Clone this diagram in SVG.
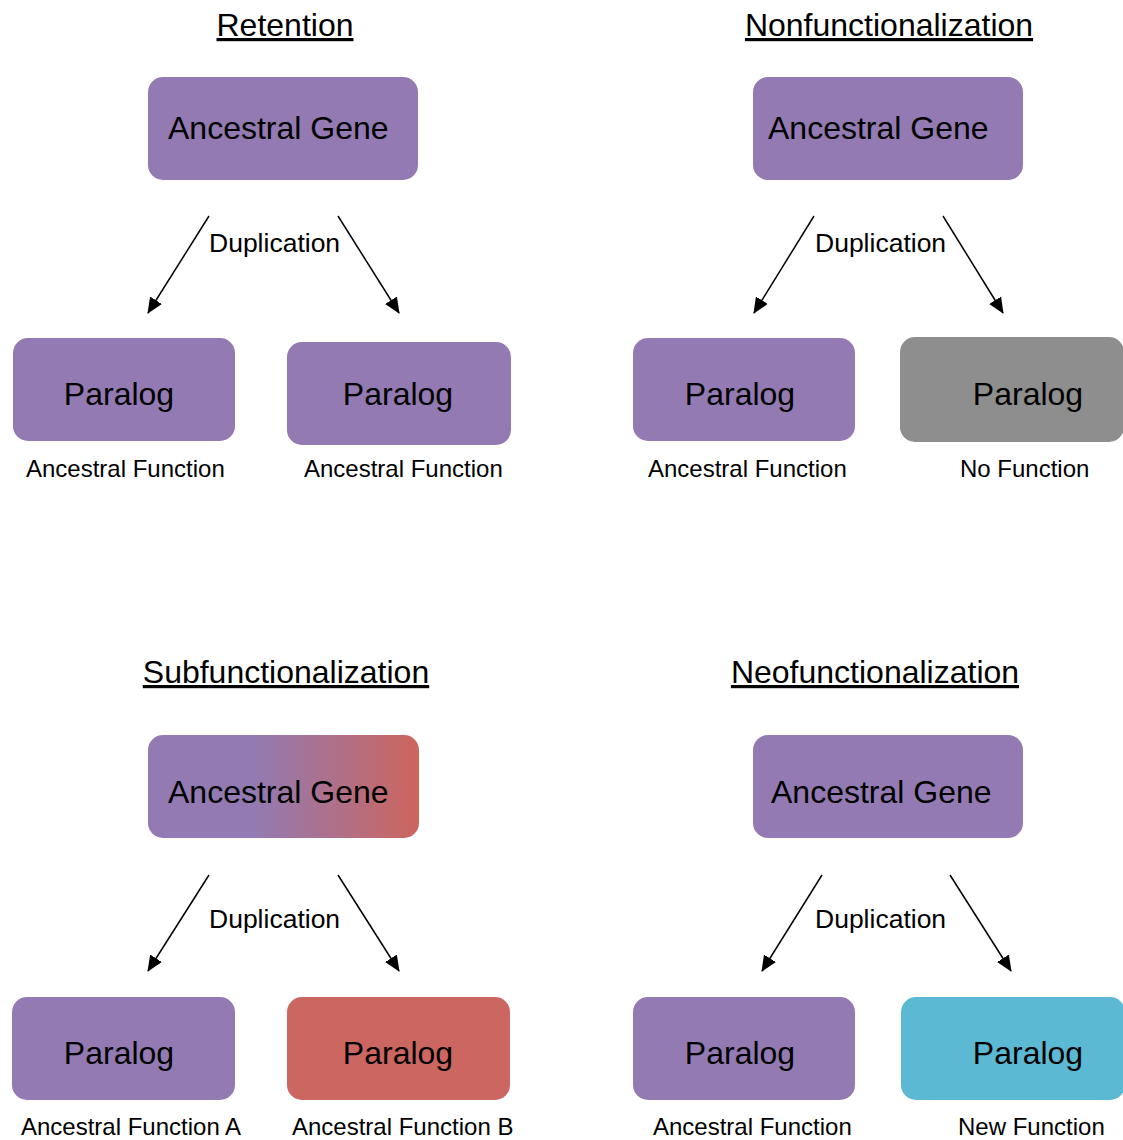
<svg xmlns="http://www.w3.org/2000/svg" width="1123" height="1140" viewBox="0 0 1123 1140">
<defs>
<marker id="ah" markerWidth="16" markerHeight="14" refX="15" refY="7" orient="auto" markerUnits="userSpaceOnUse" viewBox="0 0 16 14">
<path d="M0,0 L16,7 L0,14 z" fill="#000"/>
</marker>
<linearGradient id="grad" x1="0" y1="0" x2="1" y2="0">
<stop offset="0.4" stop-color="#937AB2"/>
<stop offset="1" stop-color="#CD655D"/>
</linearGradient>
<style>
text{font-family:"Liberation Sans",Arial,sans-serif;fill:#000}
.title{font-size:32px;text-decoration:underline;text-anchor:middle}
.big{font-size:32px}
.mid{font-size:26.5px}
.lbl{font-size:24px}
.purple{fill:#937AB2}
.gray{fill:#8E8E8E}
.red{fill:#CC6660}
.cyan{fill:#5CB9D3}
.conn line{stroke:#000;stroke-width:1.5;marker-end:url(#ah)}
</style>
</defs>
<rect width="1123" height="1140" fill="#fff"/>

<g id="titles">
<text class="title" x="285" y="36">Retention</text>
<text class="title" x="889" y="36">Nonfunctionalization</text>
<text class="title" x="286" y="683">Subfunctionalization</text>
<text class="title" x="875" y="683">Neofunctionalization</text>
</g>

<g id="connectors" class="conn">
<line x1="209" y1="216" x2="148" y2="313"/>
<line x1="338" y1="216" x2="399" y2="313"/>
<line x1="814" y1="216" x2="754" y2="313"/>
<line x1="943" y1="216" x2="1003" y2="313"/>
<line x1="209" y1="875" x2="148" y2="971"/>
<line x1="338" y1="875" x2="399" y2="971"/>
<line x1="822" y1="875" x2="762" y2="971"/>
<line x1="950" y1="875" x2="1011" y2="971"/>
</g>

<g id="dup-labels">
<text class="mid" x="209" y="252">Duplication</text>
<text class="mid" x="815" y="252">Duplication</text>
<text class="mid" x="209" y="928">Duplication</text>
<text class="mid" x="815" y="928">Duplication</text>
</g>

<g id="ret-ancestral">
<rect class="purple" x="148" y="77" width="270" height="103" rx="15"/>
<text class="big" x="168" y="139">Ancestral Gene</text>
</g>
<g id="ret-paralog1">
<rect class="purple" x="13" y="338" width="222" height="103" rx="15"/>
<text class="big" x="119" y="405" text-anchor="middle">Paralog</text>
<text class="lbl" x="26" y="477">Ancestral Function</text>
</g>
<g id="ret-paralog2">
<rect class="purple" x="287" y="342" width="224" height="103" rx="15"/>
<text class="big" x="398" y="405" text-anchor="middle">Paralog</text>
<text class="lbl" x="304" y="477">Ancestral Function</text>
</g>

<g id="non-ancestral">
<rect class="purple" x="753" y="77" width="270" height="103" rx="15"/>
<text class="big" x="768" y="139">Ancestral Gene</text>
</g>
<g id="non-paralog1">
<rect class="purple" x="633" y="338" width="222" height="103" rx="15"/>
<text class="big" x="740" y="405" text-anchor="middle">Paralog</text>
<text class="lbl" x="648" y="477">Ancestral Function</text>
</g>
<g id="non-paralog2">
<rect class="gray" x="900" y="337" width="224" height="105" rx="15"/>
<text class="big" x="1028" y="405" text-anchor="middle">Paralog</text>
<text class="lbl" x="960" y="477">No Function</text>
</g>

<g id="sub-ancestral">
<rect fill="url(#grad)" x="148" y="735" width="271" height="103" rx="15"/>
<text class="big" x="168" y="803">Ancestral Gene</text>
</g>
<g id="sub-paralog1">
<rect class="purple" x="12" y="997" width="223" height="103" rx="15"/>
<text class="big" x="119" y="1064" text-anchor="middle">Paralog</text>
<text class="lbl" x="21" y="1135">Ancestral Function A</text>
</g>
<g id="sub-paralog2">
<rect class="red" x="287" y="997" width="223" height="103" rx="15"/>
<text class="big" x="398" y="1064" text-anchor="middle">Paralog</text>
<text class="lbl" x="292" y="1135">Ancestral Function B</text>
</g>

<g id="neo-ancestral">
<rect class="purple" x="753" y="735" width="270" height="103" rx="15"/>
<text class="big" x="771" y="803">Ancestral Gene</text>
</g>
<g id="neo-paralog1">
<rect class="purple" x="633" y="997" width="222" height="103" rx="15"/>
<text class="big" x="740" y="1064" text-anchor="middle">Paralog</text>
<text class="lbl" x="653" y="1135">Ancestral Function</text>
</g>
<g id="neo-paralog2">
<rect class="cyan" x="901" y="997" width="224" height="103" rx="15"/>
<text class="big" x="1028" y="1064" text-anchor="middle">Paralog</text>
<text class="lbl" x="958" y="1135">New Function</text>
</g>
</svg>
